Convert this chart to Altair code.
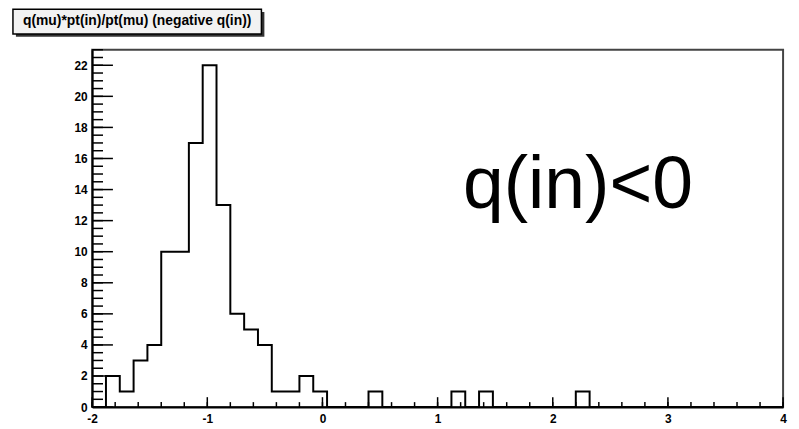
import altair as alt
import pandas as pd

# ---- data ----
x_min = -2.0
bin_width = 0.12
counts = [0, 2, 1, 3, 4, 10, 10, 17, 22, 13,
          6, 5, 4, 1, 1, 2, 1, 0, 0, 0,
          1, 0, 0, 0, 0, 0, 1, 0, 1, 0,
          0, 0, 0, 0, 0, 1, 0, 0, 0, 0,
          0, 0, 0, 0, 0, 0, 0, 0, 0, 0]
x_major = [-2, -1, 0, 1, 2, 3, 4]
x_minor = [round(-2 + 0.2 * i, 2) for i in range(31)]
y_major = list(range(0, 23, 2))
y_minor = [i * 0.5 for i in range(47)]
title_text = "q(mu)*pt(in)/pt(mu) (negative q(in))"
note_text = ["q(in)<0"]
note_x = [1.22]
note_y = [12.8]

W, H = 698, 361
LBL = "Liberation Sans, Arial, sans-serif"

edges = [round(x_min + bin_width * i, 2) for i in range(len(counts) + 1)]
hist = pd.DataFrame({"x": edges, "n": counts + [counts[-1]]})

xs = alt.Scale(domain=[-2, 4], nice=False, zero=False)
ys = alt.Scale(domain=[0, 23], nice=False, zero=False)

x_axis = alt.Axis(
    title=None, values=x_major, labelExpr="'' + datum.value", ticks=False, grid=False,
    domainColor="black", domainWidth=2, labelFont=LBL,
    labelFontWeight="bold", labelFontSize=12, labelColor="black",
    labelPadding=7, labelFlush=False)
y_axis = alt.Axis(
    title=None, values=y_major, labelExpr="'' + datum.value", ticks=False, grid=False,
    domainColor="black", domainWidth=2, labelFont=LBL,
    labelFontWeight="bold", labelFontSize=12, labelColor="black",
    labelPadding=5, labelFlush=False)

X = lambda f: alt.X(f, scale=xs, axis=x_axis)
Y = lambda f: alt.Y(f, scale=ys, axis=y_axis)

line = alt.Chart(hist).mark_line(
    interpolate="step-after", color="black", strokeWidth=2
).encode(x=X("x:Q"), y=Y("n:Q"))

xmaj = alt.Chart(pd.DataFrame({"x": x_major})).mark_rule(color="black", strokeWidth=1.5).encode(
    x=X("x:Q"), y=alt.value(H), y2=alt.value(H - 10))
xmin_ = alt.Chart(pd.DataFrame({"x": x_minor})).mark_rule(color="black", strokeWidth=1.5).encode(
    x=X("x:Q"), y=alt.value(H), y2=alt.value(H - 5))
ymaj = alt.Chart(pd.DataFrame({"n": y_major})).mark_rule(color="black", strokeWidth=1.5).encode(
    y=Y("n:Q"), x=alt.value(0), x2=alt.value(21))
ymin_ = alt.Chart(pd.DataFrame({"n": y_minor})).mark_rule(color="black", strokeWidth=1.5).encode(
    y=Y("n:Q"), x=alt.value(0), x2=alt.value(11))

note = alt.Chart(pd.DataFrame({"x": note_x, "n": note_y, "t": note_text})).mark_text(
    align="left", baseline="alphabetic", fontSize=74, font="Liberation Sans, Arial",
    color="black"
).encode(x=X("x:Q"), y=Y("n:Q"), text="t:N")

one = pd.DataFrame({"t": [title_text]})
shadow = alt.Chart(one).mark_rect(color="#333333").encode(
    x=alt.value(-77), x2=alt.value(174), y=alt.value(-38), y2=alt.value(-13))
box = alt.Chart(one).mark_rect(fill="#f2f2f2", stroke="black", strokeWidth=1.5).encode(
    x=alt.value(-80), x2=alt.value(171), y=alt.value(-41), y2=alt.value(-16))
title = alt.Chart(one).mark_text(
    align="center", baseline="middle", font=LBL, fontWeight="bold",
    fontSize=14, color="black"
).encode(x=alt.value(45.5), y=alt.value(-28.5), text="t:N")

chart = alt.layer(line, xmaj, xmin_, ymaj, ymin_, note, shadow, box, title).properties(
    width=W, height=H,
    autosize=alt.AutoSizeParams(type="none"),
    padding={"left": 85, "top": 40, "right": 8, "bottom": 20},
    background="white",
).configure_view(stroke="#444444", strokeWidth=2)

chart.save("out.html", embed_options={"renderer": "svg", "actions": False})
